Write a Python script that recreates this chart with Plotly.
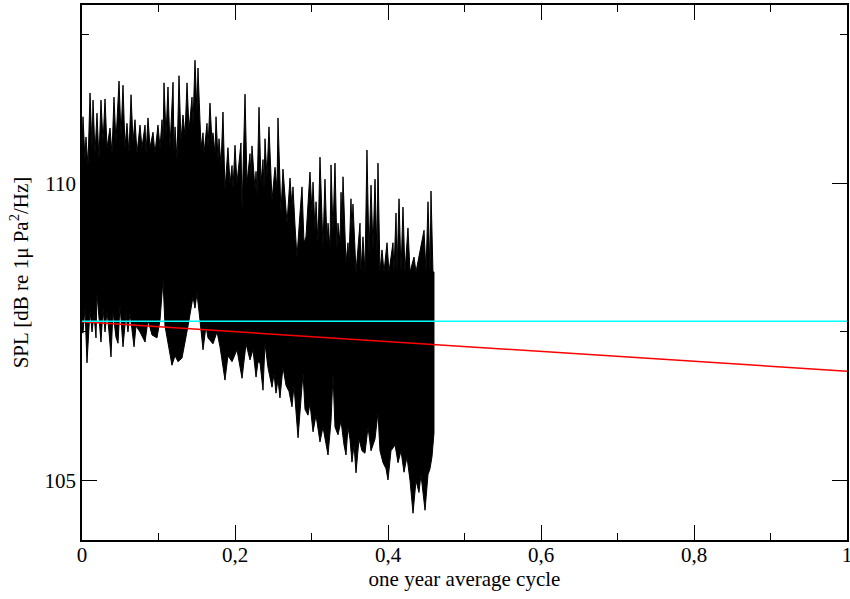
import plotly.graph_objects as go

# Upper edge of the dense SPL trace (cycle fraction, dB)
UPPER_X = [0.0000, 0.0013, 0.0039, 0.0052, 0.0078, 0.0105, 0.0131, 0.0144, 0.0170, 0.0196,
           0.0222, 0.0248, 0.0275, 0.0301, 0.0327, 0.0366, 0.0392, 0.0418, 0.0444, 0.0484,
           0.0510, 0.0536, 0.0562, 0.0588, 0.0614, 0.0641, 0.0667, 0.0693, 0.0719, 0.0758,
           0.0784, 0.0824, 0.0837, 0.0863, 0.0889, 0.0928, 0.0954, 0.0993, 0.1020, 0.1046,
           0.1059, 0.1072, 0.1098, 0.1124, 0.1150, 0.1190, 0.1203, 0.1216, 0.1242, 0.1268,
           0.1294, 0.1320, 0.1346, 0.1373, 0.1399, 0.1438, 0.1451, 0.1477, 0.1503, 0.1516,
           0.1556, 0.1582, 0.1595, 0.1634, 0.1647, 0.1673, 0.1699, 0.1712, 0.1739, 0.1752,
           0.1778, 0.1791, 0.1817, 0.1843, 0.1869, 0.1908, 0.1935, 0.1961, 0.1974, 0.2000,
           0.2026, 0.2078, 0.2092, 0.2131, 0.2157, 0.2196, 0.2209, 0.2222, 0.2261, 0.2275,
           0.2288, 0.2314, 0.2340, 0.2366, 0.2379, 0.2392, 0.2418, 0.2444, 0.2484, 0.2523,
           0.2549, 0.2562, 0.2601, 0.2627, 0.2680, 0.2719, 0.2745, 0.2758, 0.2784, 0.2810,
           0.2850, 0.2876, 0.2902, 0.2928, 0.2980, 0.3007, 0.3020, 0.3046, 0.3059, 0.3085,
           0.3111, 0.3150, 0.3176, 0.3203, 0.3216, 0.3242, 0.3255, 0.3281, 0.3307, 0.3333,
           0.3346, 0.3373, 0.3386, 0.3399, 0.3412, 0.3451, 0.3477, 0.3490, 0.3516, 0.3529,
           0.3542, 0.3582, 0.3634, 0.3647, 0.3673, 0.3699, 0.3725, 0.3752, 0.3778, 0.3804,
           0.3830, 0.3856, 0.3869, 0.3895, 0.3922, 0.3948, 0.3987, 0.4013, 0.4065, 0.4078,
           0.4105, 0.4118, 0.4144, 0.4170, 0.4196, 0.4222, 0.4261, 0.4288, 0.4340, 0.4366,
           0.4471, 0.4497, 0.4523, 0.4549, 0.4562, 0.4588, 0.4601]
UPPER_Y = [110.60, 111.12, 110.40, 110.78, 110.30, 111.52, 110.60, 111.40, 110.50, 111.18,
           110.40, 111.40, 110.70, 111.42, 110.60, 110.93, 110.50, 111.45, 110.70, 111.72,
           110.80, 111.65, 110.60, 111.01, 110.50, 111.49, 110.70, 111.07, 110.50, 110.98,
           110.60, 110.98, 110.50, 111.10, 110.60, 110.86, 110.50, 110.98, 110.60, 111.07,
           110.70, 111.69, 110.80, 111.62, 110.60, 111.70, 110.50, 110.95, 110.40, 111.81,
           110.70, 111.15, 110.80, 111.69, 110.90, 111.45, 111.00, 112.07, 111.20, 111.94,
           110.60, 110.85, 110.50, 111.01, 110.60, 111.35, 110.70, 110.85, 110.50, 111.12,
           110.40, 110.75, 110.30, 111.20, 109.89, 110.60, 110.00, 110.30, 109.90, 110.64,
           110.00, 110.68, 109.55, 111.50, 110.00, 110.50, 110.10, 110.63, 109.90, 110.20,
           109.80, 111.28, 110.00, 110.40, 109.90, 110.75, 110.10, 110.95, 109.72, 110.27,
           109.90, 111.10, 109.50, 110.24, 109.33, 110.09, 109.60, 109.94, 109.30, 108.76,
           109.50, 109.94, 109.00, 109.10, 110.19, 109.50, 110.02, 109.20, 109.69, 109.00,
           110.44, 108.93, 110.07, 109.00, 109.33, 108.90, 110.31, 109.20, 110.34, 108.90,
           109.33, 109.00, 109.85, 109.30, 110.11, 108.66, 109.00, 108.70, 109.74, 109.20,
           109.65, 108.51, 109.33, 108.51, 109.10, 108.51, 110.56, 108.80, 109.97, 108.90,
           110.07, 108.80, 110.34, 108.51, 108.88, 108.51, 109.00, 108.51, 109.00, 108.51,
           109.50, 108.51, 109.74, 108.51, 109.60, 108.51, 109.25, 108.51, 108.76, 108.51,
           109.21, 108.51, 109.69, 108.51, 109.87, 108.51, 108.51]

# Lower edge of the dense SPL trace
LOWER_X = [0.0000, 0.0013, 0.0039, 0.0065, 0.0105, 0.0131, 0.0157, 0.0183, 0.0196, 0.0222,
           0.0248, 0.0275, 0.0301, 0.0327, 0.0353, 0.0379, 0.0405, 0.0444, 0.0471, 0.0497,
           0.0536, 0.0575, 0.0601, 0.0627, 0.0680, 0.0706, 0.0758, 0.0824, 0.0863, 0.0915,
           0.0980, 0.1020, 0.1059, 0.1085, 0.1124, 0.1176, 0.1216, 0.1255, 0.1307, 0.1346,
           0.1386, 0.1451, 0.1477, 0.1503, 0.1542, 0.1582, 0.1621, 0.1647, 0.1712, 0.1765,
           0.1804, 0.1869, 0.1908, 0.1961, 0.2026, 0.2092, 0.2144, 0.2196, 0.2235, 0.2275,
           0.2301, 0.2327, 0.2366, 0.2392, 0.2431, 0.2484, 0.2510, 0.2536, 0.2562, 0.2588,
           0.2627, 0.2667, 0.2706, 0.2745, 0.2771, 0.2824, 0.2850, 0.2889, 0.2915, 0.2954,
           0.2980, 0.3020, 0.3059, 0.3111, 0.3150, 0.3190, 0.3216, 0.3255, 0.3281, 0.3307,
           0.3346, 0.3386, 0.3425, 0.3451, 0.3477, 0.3503, 0.3529, 0.3556, 0.3582, 0.3621,
           0.3660, 0.3699, 0.3739, 0.3778, 0.3830, 0.3869, 0.3895, 0.3935, 0.3974, 0.4000,
           0.4039, 0.4092, 0.4131, 0.4170, 0.4209, 0.4248, 0.4288, 0.4327, 0.4366, 0.4405,
           0.4431, 0.4484, 0.4523, 0.4549, 0.4575, 0.4601]
LOWER_Y = [107.50, 107.48, 107.90, 106.98, 107.87, 107.50, 107.80, 107.40, 108.15, 107.70,
           107.33, 107.90, 107.50, 107.85, 107.50, 107.08, 107.85, 107.41, 107.31, 107.95,
           107.25, 107.80, 107.50, 107.82, 107.25, 107.60, 107.50, 107.33, 107.70, 107.45,
           107.40, 107.70, 108.37, 107.60, 107.30, 106.94, 107.10, 107.00, 107.06, 107.30,
           107.60, 108.09, 107.90, 108.15, 107.70, 107.20, 107.60, 107.40, 107.30, 107.50,
           107.25, 106.69, 107.10, 107.00, 107.20, 106.72, 107.30, 107.03, 107.20, 106.74,
           107.00, 106.98, 106.52, 107.31, 106.90, 106.57, 106.80, 106.47, 106.70, 106.39,
           106.91, 106.60, 106.50, 106.24, 106.60, 105.72, 106.20, 106.81, 106.20, 106.10,
           106.30, 105.82, 106.10, 105.65, 105.90, 105.60, 105.43, 106.00, 106.78, 105.90,
           105.77, 106.00, 105.60, 105.43, 105.90, 105.70, 105.31, 105.60, 105.13, 105.70,
           105.50, 105.46, 105.90, 105.50, 105.70, 106.14, 105.50, 105.30, 105.20, 105.01,
           105.50, 105.60, 105.30, 105.50, 105.14, 105.40, 105.00, 104.45, 105.00, 104.80,
           105.10, 104.50, 105.10, 105.20, 105.40, 105.80]

# Linear trend (red) and mean level (cyan)
TREND_X = [0.0, 1.0]
TREND_Y = [107.67, 106.84]
MEAN_X = [0.0, 1.0]
MEAN_Y = [107.68, 107.68]

X_TICKS = [0, 0.2, 0.4, 0.6, 0.8, 1]
X_TICK_TEXT = ["0", "0,2", "0,4", "0,6", "0,8", "1"]
X_MINOR = [0.1, 0.3, 0.5, 0.7, 0.9]
Y_TICKS = [105, 110]
Y_TICK_TEXT = ["105", "110"]
Y_MINOR = [107.5, 112.5]

FONT = "Liberation Serif, Times New Roman, serif"
FS = 21

band_x = UPPER_X + LOWER_X[::-1]
band_y = UPPER_Y + LOWER_Y[::-1]

fig = go.Figure()
fig.add_trace(go.Scatter(x=band_x, y=band_y, mode="lines", fill="toself",
                         fillcolor="black", line=dict(color="black", width=1),
                         hoverinfo="skip", showlegend=False))
fig.add_trace(go.Scatter(x=TREND_X, y=TREND_Y, mode="lines",
                         line=dict(color="#ff0000", width=1.5), showlegend=False))
fig.add_trace(go.Scatter(x=MEAN_X, y=MEAN_Y, mode="lines",
                         line=dict(color="#00ffff", width=1.5), showlegend=False))

axis_common = dict(showline=True, linecolor="black", linewidth=1.5, mirror="allticks",
                   ticks="inside", ticklen=15, tickwidth=1, tickcolor="black",
                   showgrid=False, zeroline=False, automargin=False,
                   ticklabeloverflow="allow",
                   tickfont=dict(family=FONT, size=FS, color="black"))

fig.update_xaxes(range=[0, 1], tickvals=X_TICKS, ticktext=X_TICK_TEXT,
                 minor=dict(ticks="inside", ticklen=7, tickvals=X_MINOR, tickcolor="black",
                            tickwidth=1, showgrid=False),
                 ticklabelstandoff=-5,
                 title=dict(text="one year average cycle",
                            font=dict(family=FONT, size=FS, color="black"), standoff=3),
                 **axis_common)
fig.update_yaxes(range=[104, 113], tickvals=Y_TICKS, ticktext=Y_TICK_TEXT,
                 minor=dict(ticks="inside", ticklen=7, tickvals=Y_MINOR,
                            tickcolor="black", tickwidth=1, showgrid=False),
                 title=dict(text="SPL [dB re 1\u03bc Pa<sup>2</sup>/Hz]",
                            font=dict(family=FONT, size=FS, color="black"), standoff=10),
                 **axis_common)

fig.update_layout(width=850, height=599, margin=dict(l=82, r=3, t=5, b=59),
                  paper_bgcolor="white", plot_bgcolor="white",
                  font=dict(family=FONT, size=FS, color="black"))

fig.write_html("out.html", config={"displayModeBar": False},
               post_script="document.body.style.margin='0';document.body.style.overflow='hidden';")
